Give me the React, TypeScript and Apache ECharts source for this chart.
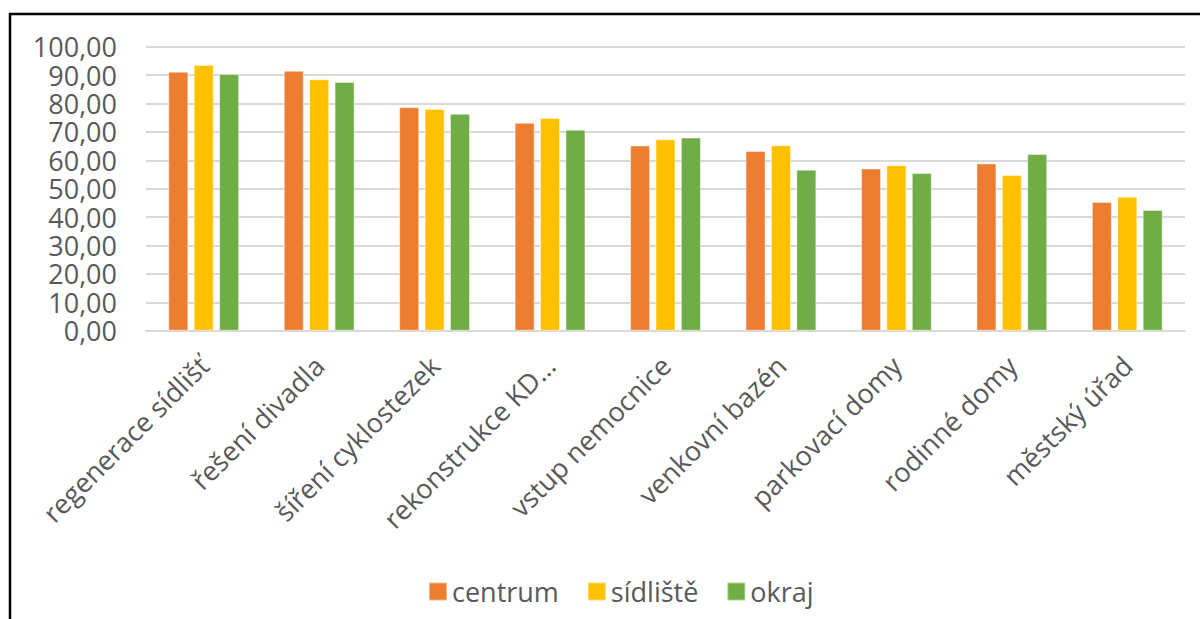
import React, { useEffect, useRef } from "react";
import * as echarts from "echarts";

const categories = [
  "regenerace sídlišť",
  "řešení divadla",
  "šíření cyklostezek",
  "rekonstrukce KD…",
  "vstup nemocnice",
  "venkovní bazén",
  "parkovací domy",
  "rodinné domy",
  "městský úřad",
];
const seriesNames = ["centrum", "sídliště", "okraj"];
const centrum = [91.2, 91.5, 78.7, 73.2, 65.2, 63.3, 57.1, 58.9, 45.3];
const sidliste = [93.6, 88.5, 78.1, 74.9, 67.4, 65.3, 58.3, 54.8, 47.2];
const okraj = [90.4, 87.6, 76.4, 70.8, 68.0, 56.7, 55.5, 62.2, 42.5];
const colors = ["#ED7D31", "#FFC000", "#70AD47"];

export default function App() {
  const ref = useRef<HTMLDivElement>(null);
  useEffect(() => {
    if (!ref.current) return;
    const chart = echarts.init(ref.current, undefined, { renderer: "svg" });
    const font = "'Open Sans', 'Noto Sans', sans-serif";
    const data = [centrum, sidliste, okraj];
    chart.setOption({
      animation: false,
      backgroundColor: "#ffffff",
      textStyle: { fontFamily: font },
      grid: { left: 146, right: 15, top: 46.7, bottom: 288.3, containLabel: false },
      legend: {
        data: seriesNames,
        left: 423,
        top: 573,
        itemWidth: 18,
        itemHeight: 18,
        itemGap: 28,
        icon: "rect",
        textStyle: { fontSize: 27, color: "#595959", fontFamily: font },
      },
      xAxis: {
        type: "category",
        data: categories,
        axisLine: { show: true, lineStyle: { color: "#d9d9d9", width: 2 } },
        axisTick: { show: false },
        axisLabel: {
          interval: 0,
          rotate: 45,
          margin: 30,
          padding: [42, 0, 0, 0],
          fontSize: 27,
          color: "#595959",
          fontFamily: font,
        },
      },
      yAxis: {
        type: "value",
        min: 0,
        max: 100,
        interval: 10,
        axisLine: { show: false },
        axisTick: { show: false },
        splitLine: { lineStyle: { color: "#d9d9d9", width: 2 } },
        axisLabel: {
          margin: 29,
          fontSize: 27,
          lineHeight: 22,
          color: "#595959",
          fontFamily: font,
          formatter: (v: number) => v.toFixed(2).replace(".", ","),
        },
      },
      series: seriesNames.map((name, i) => ({
        name,
        type: "bar",
        data: data[i],
        barWidth: 20,
        barGap: "27%",
        itemStyle: {
          color: colors[i],
          borderColor: "rgba(255,255,255,0.45)",
          borderWidth: 1,
        },
      })),
      graphic: [
        {
          type: "line",
          shape: { x1: 9, y1: 14, x2: 1200, y2: 14 },
          style: { stroke: "#000000", lineWidth: 2.5 },
        },
        {
          type: "line",
          shape: { x1: 10, y1: 13, x2: 10, y2: 619 },
          style: { stroke: "#000000", lineWidth: 2.5 },
        },
      ],
    });
    return () => chart.dispose();
  }, []);
  return (
    <div
      ref={ref}
      style={{ position: "fixed", left: 0, top: 0, width: 1200, height: 619 }}
    />
  );
}
